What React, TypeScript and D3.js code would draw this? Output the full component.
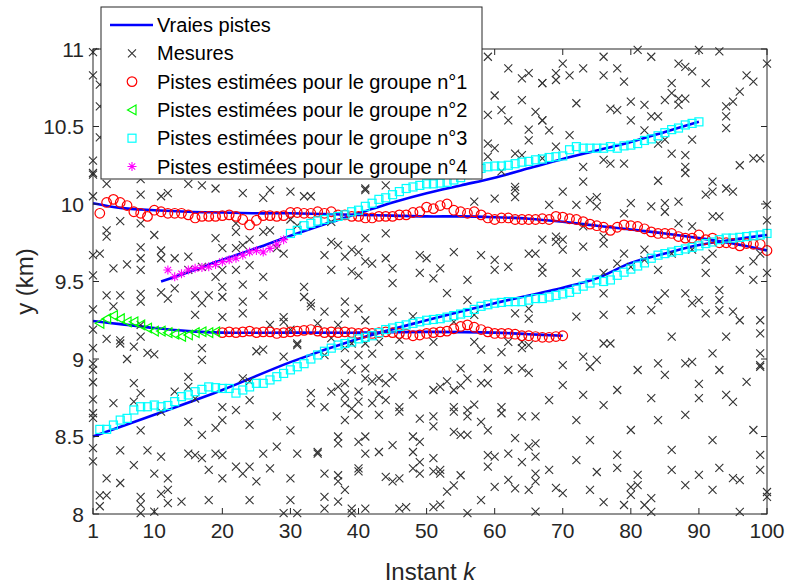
import React from 'react';
import * as d3 from 'd3';

// ---------- axes ----------
const K_TICKS = [1, 10, 20, 30, 40, 50, 60, 70, 80, 90, 100];
const Y_TICKS = [8, 8.5, 9, 9.5, 10, 10.5, 11];

// ---------- legend labels ----------
const LEGEND_LABELS = [
  'Vraies pistes',
  'Mesures',
  'Pistes estimées pour le groupe n°1',
  'Pistes estimées pour le groupe n°2',
  'Pistes estimées pour le groupe n°3',
  'Pistes estimées pour le groupe n°4',
];

// ---------- true tracks (k, y) ----------
const vraiePisteA: [number, number][] = [
  [1, 10.005], [5, 9.975], [10, 9.96], [15, 9.95], [20, 9.945], [25, 9.94], [30, 9.94], [35, 9.935],
  [40, 9.93], [45, 9.925], [50, 9.92], [55, 9.92], [60, 9.915], [65, 9.905], [70, 9.885], [75, 9.86],
  [80, 9.835], [85, 9.81], [90, 9.78], [95, 9.745], [100, 9.7],
];
const vraiePisteB: [number, number][] = [
  [11, 9.5], [15, 9.56], [20, 9.64], [25, 9.715], [30, 9.795], [35, 9.87], [40, 9.94], [45, 10.01],
  [50, 10.07], [55, 10.12], [60, 10.17], [65, 10.23], [70, 10.29], [75, 10.345], [80, 10.4], [85, 10.465], [90, 10.53],
];
const vraiePisteC: [number, number][] = [
  [1, 9.245], [5, 9.225], [10, 9.2], [15, 9.18], [20, 9.17], [30, 9.17], [40, 9.17], [50, 9.175],
  [60, 9.17], [65, 9.16], [70, 9.15],
];
const vraiePisteD: [number, number][] = [
  [1, 8.5], [10, 8.64], [20, 8.8], [30, 8.98], [40, 9.13], [50, 9.25], [60, 9.36], [70, 9.46],
  [75, 9.52], [80, 9.62], [85, 9.68], [90, 9.735], [95, 9.77], [100, 9.8],
];

// ---------- estimated tracks (first k, values) ----------
const g1HautDebut = 2;
const g1Haut = [
  9.94, 10.01, 10.03, 10.01, 9.99, 9.95, 9.94, 9.92, 9.96, 9.95, 9.94, 9.94, 9.94, 9.93, 9.91, 9.92, 9.92, 9.92,
  9.925, 9.93, 9.92, 9.9, 9.865, 9.895, 9.925, 9.925, 9.92, 9.925, 9.945, 9.945, 9.94, 9.94, 9.95, 9.94, 9.95,
  9.93, 9.93, 9.92, 9.92, 9.91, 9.91, 9.92, 9.92, 9.92, 9.93, 9.93, 9.945, 9.95, 9.98, 9.97, 9.99, 10.0, 9.96,
  9.95, 9.94, 9.95, 9.93, 9.91, 9.9, 9.91, 9.91, 9.9, 9.9, 9.9, 9.9, 9.905, 9.9, 9.92, 9.915, 9.905, 9.9, 9.886,
  9.87, 9.86, 9.85, 9.83, 9.85, 9.865, 9.86, 9.855, 9.84, 9.82, 9.81, 9.81, 9.81, 9.79, 9.78, 9.78, 9.8, 9.77,
  9.78, 9.75, 9.75, 9.745, 9.73, 9.745, 9.74, 9.74, 9.7,
];
const g1BasDebut = 20;
const g1Bas = [
  9.17, 9.175, 9.17, 9.175, 9.18, 9.17, 9.175, 9.175, 9.165, 9.17, 9.175, 9.18, 9.185, 9.19, 9.18, 9.17, 9.175,
  9.17, 9.175, 9.17, 9.165, 9.17, 9.165, 9.17, 9.175, 9.17, 9.165, 9.16, 9.15, 9.155, 9.165, 9.17, 9.175, 9.18,
  9.195, 9.21, 9.22, 9.205, 9.19, 9.175, 9.165, 9.165, 9.165, 9.16, 9.15, 9.15, 9.145, 9.14, 9.14, 9.145, 9.15,
];
const g2Debut = 2;
const g2 = [
  9.23, 9.26, 9.28, 9.26, 9.24, 9.24, 9.22, 9.2, 9.18, 9.18, 9.17, 9.16, 9.145, 9.155, 9.17, 9.176, 9.17, 9.176,
];
const g3BasDebut = 2;
const g3Bas = [
  8.546, 8.546, 8.574, 8.606, 8.617, 8.671, 8.692, 8.692, 8.703, 8.692, 8.7, 8.725, 8.757, 8.768, 8.789, 8.804,
  8.82, 8.815, 8.81, 8.81, 8.78, 8.8, 8.82, 8.843, 8.843, 8.865, 8.886, 8.907, 8.93, 8.95, 8.97, 9.0, 9.026,
  9.05, 9.07, 9.09, 9.1, 9.11, 9.13, 9.14, 9.15, 9.17, 9.19, 9.2, 9.21, 9.22, 9.23, 9.24, 9.25, 9.255, 9.26,
  9.27, 9.28, 9.29, 9.3, 9.32, 9.34, 9.35, 9.36, 9.365, 9.37, 9.37, 9.37, 9.38, 9.39, 9.39, 9.4, 9.41, 9.42,
  9.43, 9.45, 9.47, 9.49, 9.51, 9.5, 9.51, 9.54, 9.56, 9.58, 9.6, 9.62, 9.65, 9.67, 9.68, 9.69, 9.7, 9.71, 9.72,
  9.73, 9.745, 9.755, 9.77, 9.78, 9.78, 9.785, 9.79, 9.795, 9.8, 9.81,
];
const g3HautDebut = 30;
const g3Haut = [
  9.81, 9.83, 9.86, 9.875, 9.89, 9.9, 9.91, 9.92, 9.93, 9.95, 9.96, 9.985, 10.005, 10.03, 10.04, 10.06, 10.08,
  10.1, 10.11, 10.12, 10.13, 10.13, 10.135, 10.14, 10.155, 10.17, 10.19, 10.21, 10.23, 10.24, 10.245, 10.245,
  10.25, 10.26, 10.27, 10.275, 10.285, 10.29, 10.3, 10.305, 10.31, 10.35, 10.37, 10.36, 10.36, 10.36, 10.36,
  10.37, 10.36, 10.375, 10.38, 10.39, 10.41, 10.42, 10.44, 10.46, 10.48, 10.49, 10.51, 10.52, 10.53,
];
const g4Debut = 12;
const g4 = [
  9.574, 9.53, 9.55, 9.574, 9.585, 9.59, 9.595, 9.61, 9.628, 9.64, 9.65, 9.67, 9.69, 9.7, 9.69, 9.714, 9.74, 9.77,
];

// ---------- measurements (k, y) ----------
const mesures: [number, number][] = [
  [1,10.19],[3,10.13],[8,10.16],[11,10.19],[15,10.13],[17,10.12],[19,10.1],[23,10.07],[26,10.04],[27,10.09],[30,10.08],[32,10.05],[33,10.05],[8,10.06],[11,10.05],[12,10.07],[5,9.89],[3,9.83],[3,9.79],[8,9.875],[10,9.8],[19,9.78],[22,9.875],[22,9.82],[24,9.77],[26,9.82],[27,9.83],[30,9.9],[31,9.86],[8,9.72],[6,9.61],[4,9.585],[1,9.67],[2,9.68],[8,9.65],[8,9.575],[11,9.7],[11,9.65],[13,9.65],[15,9.66],[15,9.575],[17,9.595],[20,9.575],[19,9.53],[22,9.575],[24,9.605],[26,9.53],[23,9.48],[1,9.54],[23,9.735],[22,9.715],[20,9.715],[28,9.715],[29,9.68],[3,9.41],[5,9.41],[8,9.42],[8,9.37],[11,9.43],[12,9.39],[13,9.455],[16,9.41],[18,9.41],[20,9.4],[20,9.465],[23,9.37],[26,9.41],[4,9.34],[16,9.285],[20,9.27],[23,9.295],[29,9.27],[29,9.24],[30,9.19],[32,9.4],[33,9.36],[33,9.34],[31,9.1],[3,9.13],[5,9.12],[8,9.145],[17,9.36],[27,9.22],[8,9.22],[32,9.465],
  [1,8.93],[5,9.1],[7,9.08],[6,9.0],[9,9.04],[10,9.03],[17,9.07],[17,8.995],[25,9.05],[26,9.06],[29,9.015],[31,9.09],[7,8.845],[8,8.78],[4,8.715],[7,8.725],[13,8.79],[15,8.885],[15,8.82],[16,8.745],[23,8.875],[24,8.855],[24,8.735],[20,8.69],[22,8.67],[28,8.63],[33,8.78],[33,8.715],[1,8.65],[1,8.62],[1,8.425],[1,8.34],[8,8.54],[11,8.66],[15,8.595],[17,8.51],[19,8.555],[20,8.605],[24,8.575],[30,8.54],[5,8.41],[9,8.41],[11,8.37],[15,8.39],[16,8.38],[17,8.36],[19,8.39],[20,8.38],[26,8.39],[28,8.435],[31,8.39],[34,8.39],[7,8.315],[10,8.26],[12,8.23],[18,8.285],[20,8.23],[22,8.305],[23,8.26],[24,8.305],[27,8.295],[25,8.21],[30,8.23],[3,8.23],[5,8.2],[2,8.12],[3,8.12],[8,8.11],[11,8.13],[12,8.155],[2,8.05],[8,8.06],[12,8.07],[14,8.08],[18,8.09],[24,8.09],[30,8.09],[8,8.005],[10,8.015],[29,8.005],[31,8.005],
  [59,10.95],[62,10.875],[64,10.81],[65,10.845],[67,10.78],[60,10.7],[64,10.67],[59,10.575],[61,10.605],[62,10.54],[66,10.595],[67,10.54],[65,10.48],[65,10.41],[59,10.39],[60,10.36],[59,10.305],[63,10.325],[64,10.315],[61,10.21],[63,10.11],[67,10.295],[41,10.1],[44,10.12],
  [41,10.09],[63,10.09],[63,10.045],[60,10.035],[57,10.015],[44,9.81],[36,9.755],[37,9.735],[39,9.705],[41,9.78],[35,9.67],[38,9.66],[40,9.69],[41,9.63],[42,9.615],[44,9.65],[45,9.585],[49,9.67],[50,9.65],[54,9.69],[58,9.67],[60,9.64],[60,9.575],[62,9.595],[65,9.68],[66,9.68],[36,9.575],[39,9.565],[40,9.54],[45,9.49],[49,9.555],[52,9.585],[51,9.52],[56,9.51],[53,9.425],[56,9.38],[38,9.37],[35,9.305],[38,9.295],[40,9.325],[41,9.25],[45,9.305],[48,9.275],[54,9.24],[57,9.285],[63,9.295],[65,9.26],[65,9.325],[34,9.23],[37,9.22],[36,9.135],[39,9.1],[41,9.1],[43,9.11],[46,9.125],[51,9.11],[57,9.11],[62,9.11],[64,9.11],[65,9.09],[36,9.885],
  [35,9.025],[38,9.07],[40,9.025],[42,9.035],[38,8.97],[39,8.93],[41,8.94],[41,8.875],[43,8.875],[44,8.845],[45,8.885],[42,8.855],[46,9.025],[49,9.025],[36,8.79],[37,8.82],[38,8.845],[38,8.77],[38,8.715],[40,8.79],[40,8.725],[39,8.68],[40,8.64],[43,8.77],[44,8.735],[42,8.715],[43,8.64],[46,8.69],[46,8.66],[48,8.77],[35,8.69],[38,8.605],[49,8.615],[51,8.8],[52,8.82],[53,8.855],[54,8.8],[55,8.94],[56,8.875],[55,8.83],[58,8.845],[59,8.845],[59,8.94],[62,8.93],[64,8.94],[65,8.91],[58,9.06],[61,9.045],[64,9.07],[54,8.69],[54,8.66],[56,8.67],[56,8.63],[57,8.705],[51,8.63],[51,8.565],[58,8.595],[59,8.54],[61,8.69],[61,8.65],[64,8.63],[66,8.63],[37,8.5],[37,8.455],[40,8.465],[41,8.5],[41,8.39],[43,8.4],[45,8.445],[48,8.5],[49,8.465],[48,8.4],[34,8.4],[54,8.53],[55,8.51],[56,8.51],[63,8.49],[65,8.435],[66,8.455],[59,8.38],[60,8.37],[62,8.39],[64,8.335],[66,8.37],[35,8.26],[37,8.25],[37,8.21],[38,8.155],[40,8.295],[40,8.275],[44,8.24],[45,8.21],[46,8.23],[48,8.295],[49,8.26],[49,8.335],[51,8.36],[51,8.275],[52,8.285],[52,8.26],[55,8.25],[54,8.185],[53,8.145],[59,8.305],[60,8.175],[62,8.22],[63,8.165],[65,8.155],[66,8.26],[66,8.21],[35,8.11],[37,8.08],[35,8.035],[39,8.035],[41,8.035],[46,8.035],[47,8.045],[51,8.045],[52,8.06],[58,8.09],[56,8.005],[66,8.015],[39,8.005],
  [70,10.905],[69,10.845],[71,10.83],[73,10.875],[67,10.78],[69,10.8],[76,10.95],[78,10.875],[76,10.83],[79,10.79],[81,10.995],[83,10.95],[87,10.905],[88,10.885],[89,10.855],[90,10.995],[93,10.985],[86,10.78],[91,10.78],[97,10.83],[98,10.79],[100,10.905],[96,10.725],[72,10.65],[77,10.615],[78,10.605],[80,10.66],[80,10.54],[82,10.64],[85,10.67],[86,10.715],[87,10.68],[88,10.68],[87,10.64],[95,10.66],[94,10.63],[94,10.565],[94,10.49],[67,10.54],[68,10.475],[71,10.445],[69,10.37],[83,10.565],[84,10.565],[82,10.475],[84,10.39],[85,10.415],[86,10.325],[88,10.315],[89,10.415],[88,10.24],[88,10.2],[84,10.15],[73,10.24],[76,10.285],[77,10.26],[79,10.26],[73,10.145],[70,10.08],[74,10.025],[75,10.045],[75,9.985],[79,9.94],[80,10.005],[83,9.985],[85,10.005],[85,9.95],[87,10.015],[91,10.06],[92,10.08],[95,10.08],[92,10.145],[94,10.1],[96,10.25],[98,10.295],[99,10.295],[100,9.995],[92,9.92],[68,9.995],[67,9.77],[69,9.79],[69,9.755],[70,9.705],[72,9.995],[76,9.79],[76,9.745],[79,9.68],[78,9.615],[80,9.595],[82,9.705],[82,9.64],[84,9.575],[86,9.68],[89,9.705],[91,9.64],[91,9.555],[92,9.68],[96,9.575],[98,9.63],[99,9.68],[93,9.92],[100,9.895],[67,9.595],[67,9.555],[72,9.555],[76,9.555],[100,9.555],[89,9.855],[87,9.875],[73,9.855],[70,9.77],[73,9.725],
  [1,10.98],[1,10.83],[2,10.77],[2,10.63],[2,10.43],[1,10.28],[1,10.2],[1,10.05],[1,9.32],[1,9.19],[1,9.07],[1,8.97],[1,8.85],[1,8.74],
  [72,9.273],[76,9.424],[76,9.284],[80,9.316],[83,9.316],[84,9.38],[85,9.424],[86,9.144],[88,9.424],[89,9.36],[90,9.38],[91,9.295],[93,9.445],[93,9.38],[93,9.316],[95,9.305],[96,9.25],[98,9.51],[99,9.25],[99,9.165],[94,9.144],[88,8.972],[92,9.037],[99,9.037],[99,8.95],[84,8.972],[77,9.1],[76,9.1],[74,8.95],[73,9.015],
  [69,8.168],[70,8.135],[74,8.155],[76,8.077],[79,8.058],[80,8.174],[80,8.123],[81,8.187],[82,8.058],[83,8.103],[83,8.013],[88,8.187],[92,8.155],[96,8.219],[96,8.013],[100,8.142],[100,8.11],
  [68,8.735],[70,8.832],[72,8.606],[74,8.477],[76,8.703],[78,8.381],[80,8.542],[83,8.748],[84,8.606],[86,8.413],[88,8.639],[90,8.839],[90,8.748],[92,8.477],[93,8.297],[95,8.723],[97,8.852],[98,8.542],[99,8.381],
  [68,8.284],[72,8.348],[75,8.271],[78,8.297],[81,8.252],[86,8.284],[90,8.252],[95,8.232],[99,8.284],
  [70,8.961],[75,8.994],[81,8.929],[85,8.897],[89,8.981],[93,8.929],[99,8.961],[73,8.768],[78,8.8],[94,8.768],
];

const FONT = '"Liberation Sans", Arial, Helvetica, sans-serif';
const AXC = '#262626';

const serie = (start: number, vals: number[]): [number, number][] => vals.map((v, i) => [start + i, v]);

const CROSS = 'M-4,-4L4,4M4,-4L-4,4';
const STAR = 'M-4.5,0H4.5M0,-4.5V4.5M-3.2,-3.2L3.2,3.2M-3.2,3.2L3.2,-3.2';
const TRI = 'M-4.5,0L4,-4.8L4,4.8Z';

export default function App() {
  const L = 93, R = 767, T = 49, B = 514;
  const x = d3.scaleLinear().domain([1, 100]).range([L, R]);
  const y = d3.scaleLinear().domain([8, 11]).range([B, T]);
  const line = d3.line<[number, number]>().x(d => x(d[0])).y(d => y(d[1])).curve(d3.curveCatmullRom);

  const g1 = [...serie(g1HautDebut, g1Haut), ...serie(g1BasDebut, g1Bas)];
  const g2p = serie(g2Debut, g2);
  const g3 = [...serie(g3BasDebut, g3Bas), ...serie(g3HautDebut, g3Haut)];
  const g4p = serie(g4Debut, g4);

  const legX = 101, legY = 7, legW = 381, legH = 172, rowH = 28.3, row0 = 25;

  return (
    <svg width={787} height={585} style={{ position: 'absolute', left: 0, top: 0, background: '#fff' }} fontFamily={FONT}>
      <rect x={0} y={0} width={787} height={585} fill="#fff" />
      {[vraiePisteA, vraiePisteB, vraiePisteC, vraiePisteD].map((p, i) => (
        <path key={'t' + i} d={line(p) || ''} fill="none" stroke="#0000FF" strokeWidth={2.6} />
      ))}
      <g stroke="#333" strokeWidth={1.1} fill="none">
        {mesures.map((m, i) => (
          <path key={'m' + i} d={CROSS} transform={`translate(${x(m[0])},${y(m[1])})`} />
        ))}
      </g>
      <g stroke="#FF0000" strokeWidth={1.2} fill="none">
        {g1.map((p, i) => <circle key={'c' + i} cx={x(p[0])} cy={y(p[1])} r={4.8} />)}
      </g>
      <g stroke="#00FF00" strokeWidth={1.2} fill="none">
        {g2p.map((p, i) => <path key={'g' + i} d={TRI} transform={`translate(${x(p[0])},${y(p[1])})`} />)}
      </g>
      <g stroke="#00FFFF" strokeWidth={1.2} fill="none">
        {g3.map((p, i) => <rect key={'s' + i} x={x(p[0]) - 4} y={y(p[1]) - 4} width={8} height={8} />)}
      </g>
      <g stroke="#FF00FF" strokeWidth={1.1} fill="none">
        {g4p.map((p, i) => <path key={'p' + i} d={STAR} transform={`translate(${x(p[0])},${y(p[1])})`} />)}
      </g>

      <rect x={L} y={T} width={R - L} height={B - T} fill="none" stroke={AXC} strokeWidth={1} />
      {K_TICKS.map(k => (
        <g key={'kx' + k}>
          <line x1={x(k)} x2={x(k)} y1={B} y2={B - 6} stroke={AXC} />
          <line x1={x(k)} x2={x(k)} y1={T} y2={T + 6} stroke={AXC} />
          <text x={x(k)} y={B + 24} textAnchor="middle" fontSize={21} fill={AXC}>{k}</text>
        </g>
      ))}
      {Y_TICKS.map(v => (
        <g key={'ky' + v}>
          <line x1={L} x2={L + 6} y1={y(v)} y2={y(v)} stroke={AXC} />
          <line x1={R} x2={R - 6} y1={y(v)} y2={y(v)} stroke={AXC} />
          <text x={L - 9} y={y(v) + 7.5} textAnchor="end" fontSize={21} fill={AXC}>{String(v)}</text>
        </g>
      ))}
      <text x={(L + R) / 2} y={580} textAnchor="middle" fontSize={24} fill={AXC}>
        Instant <tspan fontStyle="italic">k</tspan>
      </text>
      <text transform={`translate(33,${(T + B) / 2}) rotate(-90)`} textAnchor="middle" fontSize={24} fill={AXC}>y (km)</text>

      <rect x={legX} y={legY} width={legW} height={legH} fill="#fff" stroke={AXC} strokeWidth={1} />
      {LEGEND_LABELS.map((lab, i) => {
        const cy = legY + row0 - 7 + i * rowH;
        const mx = 132;
        let sym: React.ReactNode = null;
        if (i === 0) sym = <line x1={110} x2={153} y1={cy} y2={cy} stroke="#0000FF" strokeWidth={2.6} />;
        if (i === 1) sym = <path d={CROSS} transform={`translate(${mx},${cy})`} stroke="#333" strokeWidth={1.1} fill="none" />;
        if (i === 2) sym = <circle cx={mx} cy={cy} r={4.8} stroke="#FF0000" strokeWidth={1.2} fill="none" />;
        if (i === 3) sym = <path d={TRI} transform={`translate(${mx},${cy})`} stroke="#00FF00" strokeWidth={1.2} fill="none" />;
        if (i === 4) sym = <rect x={mx - 4} y={cy - 4} width={8} height={8} stroke="#00FFFF" strokeWidth={1.2} fill="none" />;
        if (i === 5) sym = <path d={STAR} transform={`translate(${mx},${cy})`} stroke="#FF00FF" strokeWidth={1.1} fill="none" />;
        return (
          <g key={'l' + i}>
            {sym}
            <text x={157} y={cy + 7} fontSize={20} fill="#000">{lab}</text>
          </g>
        );
      })}
    </svg>
  );
}
